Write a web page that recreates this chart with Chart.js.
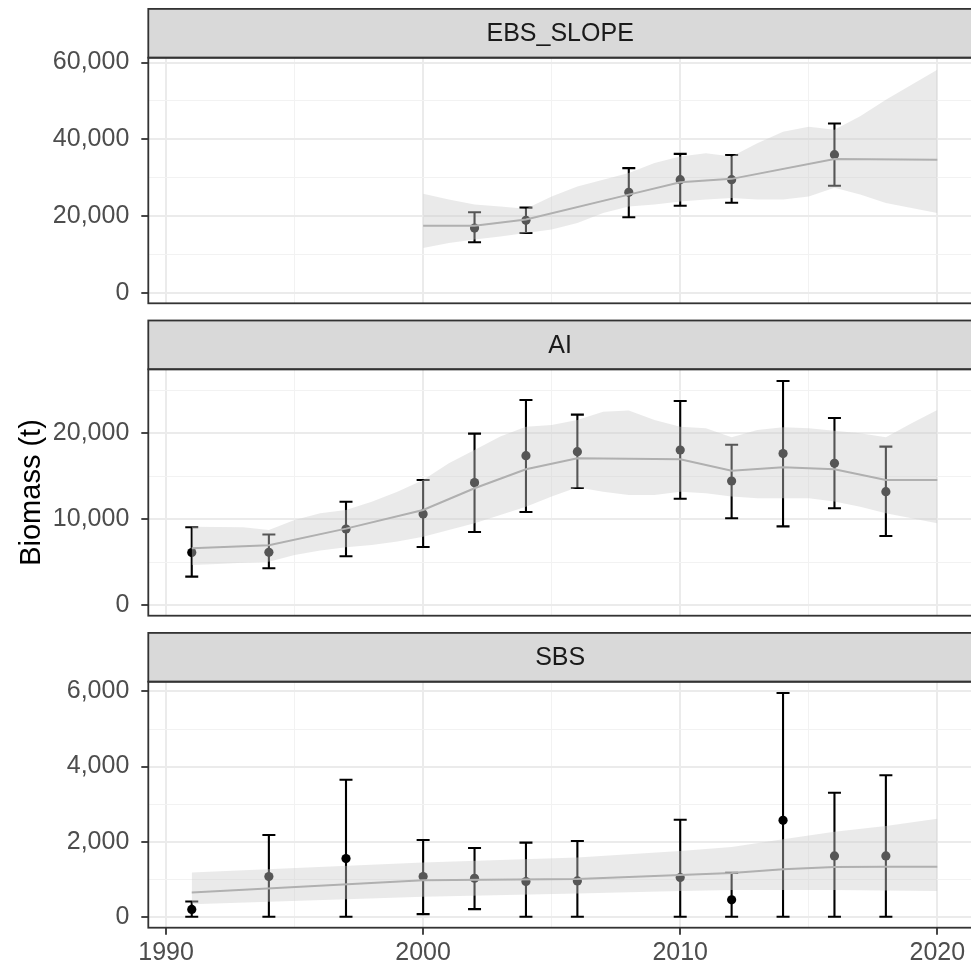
<!DOCTYPE html>
<html>
<head>
<meta charset="utf-8">
<title>Biomass (t)</title>
<script src="https://cdn.jsdelivr.net/npm/chart.js@4.4.1/dist/chart.umd.min.js"></script>
<style>
  html, body { margin: 0; padding: 0; background: #ffffff; }
  body { width: 971px; height: 966px; overflow: hidden; position: relative; }
  canvas { position: absolute; left: 0; top: 0; }
</style>
</head>
<body>
<canvas id="panelSlope" width="980" height="966"></canvas>
<canvas id="panelAI" width="980" height="966"></canvas>
<canvas id="panelSBS" width="980" height="966"></canvas>
<script>
// ---------- shared x axis (survey year) ----------
const xTickYears  = [1990, 2000, 2010, 2020];
const xTickLabels = ['1990', '2000', '2010', '2020'];
const xMinorYears = [1995, 2005, 2015];

// ---------- EBS_SLOPE ----------
const slopeYears   = [2002, 2004, 2008, 2010, 2012, 2016];
const slopeBiomass = [16900, 18900, 26200, 29500, 29500, 36000];
const slopeLower   = [13200, 15600, 19700, 22700, 23500, 27900];
const slopeUpper   = [21000, 22200, 32500, 36200, 35900, 44100];
const slopeFitYears = [2000, 2002, 2004, 2008, 2010, 2012, 2016, 2020];
const slopeFit      = [17500, 17500, 19100, 25600, 28800, 29700, 34900, 34700];
const slopeBandYears = [2000, 2001, 2002, 2003, 2004, 2005, 2006, 2007, 2008, 2009, 2010,
                        2011, 2012, 2013, 2014, 2015, 2016, 2017, 2018, 2019, 2020];
const slopeBandLow  = [11700, 13000, 13900, 14700, 15600, 16500, 18200, 20800, 22500, 23000, 23800,
                       24300, 24700, 24300, 24300, 25100, 27400, 25600, 23400, 22100, 20800];
const slopeBandHigh = [25800, 24300, 23000, 22500, 21900, 25100, 27700, 29500, 31200, 33800, 35500,
                       36400, 35500, 39000, 42000, 43300, 42500, 46000, 50300, 54200, 58100];
const slopeYTicks  = [0, 20000, 40000, 60000];
const slopeYLabels = ['0', '20,000', '40,000', '60,000'];
const slopeYMinor  = [10000, 30000, 50000];

// ---------- AI ----------
const aiYears   = [1991, 1994, 1997, 2000, 2002, 2004, 2006, 2010, 2012, 2014, 2016, 2018];
const aiBiomass = [6100, 6130, 8850, 10600, 14250, 17390, 17860, 18050, 14440, 17630, 16500, 13200];
const aiLower   = [3300, 4270, 5670, 6760, 8500, 10830, 13630, 12380, 10100, 9160, 11260, 8040];
const aiUpper   = [9050, 8200, 12030, 14560, 19960, 23880, 22170, 23760, 18670, 26090, 21780, 18440];
const aiFitYears = [1991, 1994, 1997, 2000, 2002, 2004, 2006, 2010, 2012, 2014, 2016, 2018, 2020];
const aiFit      = [6600, 6950, 8890, 11070, 13590, 15800, 17090, 16970, 15640, 16040, 15800, 14560, 14560];
const aiBandYears = [1991, 1992, 1993, 1994, 1995, 1996, 1997, 1998, 1999, 2000,
                     2001, 2002, 2003, 2004, 2005, 2006, 2007, 2008, 2009, 2010,
                     2011, 2012, 2013, 2014, 2015, 2016, 2017, 2018, 2019, 2020];
const aiBandLow  = [4660, 4780, 4930, 5040, 5820, 6330, 6720, 6990, 7380, 7960,
                    8740, 9520, 10480, 11450, 12620, 13700, 13200, 12810, 12810, 13200,
                    13010, 12620, 12430, 12430, 12430, 12040, 11450, 10680, 10100, 9520];
const aiBandHigh = [9120, 9080, 9040, 8740, 9900, 10680, 11070, 12030, 13200, 14560,
                    16500, 18050, 19610, 20770, 20970, 21550, 22520, 22640, 21550, 20770,
                    20580, 19530, 20380, 20700, 20580, 20300, 20000, 19530, 21160, 22710];
const aiYTicks  = [0, 10000, 20000];
const aiYLabels = ['0', '10,000', '20,000'];
const aiYMinor  = [5000, 15000, 25000];

// ---------- SBS ----------
const sbsYears   = [1991, 1994, 1997, 2000, 2002, 2004, 2006, 2010, 2012, 2014, 2016, 2018];
const sbsBiomass = [196, 1073, 1550, 1073, 1027, 940, 956, 1046, 452, 2568, 1620, 1620];
const sbsLower   = [0, 0, 0, 72, 205, 0, 0, 0, 0, 0, 0, 0];
const sbsUpper   = [409, 2177, 3648, 2045, 1833, 1975, 2018, 2586, 1169, 5958, 3303, 3770];
const sbsFitYears = [1991, 2000, 2006, 2010, 2012, 2014, 2016, 2018, 2020];
const sbsFit      = [648, 974, 1010, 1115, 1169, 1266, 1328, 1335, 1336];
const sbsBandYears = [1991, 2000, 2006, 2010, 2012, 2014, 2016, 2018, 2020];
const sbsBandLow   = [337, 531, 621, 690, 717, 717, 717, 700, 690];
const sbsBandHigh  = [1179, 1444, 1577, 1752, 1859, 2063, 2267, 2416, 2612];
const sbsYTicks  = [0, 2000, 4000, 6000];
const sbsYLabels = ['0', '2,000', '4,000', '6,000'];
const sbsYMinor  = [1000, 3000, 5000];

// ---------- layout ----------
const CANVAS_W = 980, CANVAS_H = 966;
const PLOT_LEFT = 148.3, PLOT_RIGHT = 972;
const STRIP_H = 48.8;
const X_MIN = 1989.31, X_MAX = 2021.35;
const FONT = "'Liberation Sans', Arial, sans-serif";

Chart.defaults.font.family = FONT;

const pts = (xs, ys) => xs.map((x, i) => ({ x, y: ys[i] }));

function makePanel(id, p) {
  const xAxisH = p.showX ? CANVAS_H - p.bottom : 0;
  const xMajor = v => xTickYears.includes(v);
  const yMajor = v => p.yTicks.includes(v);

  // strip, panel border and error bars
  const facet = {
    id: 'facet',
    beforeDatasetsDraw(chart) {
      const ctx = chart.ctx, xs = chart.scales.x, ys = chart.scales.y;
      ctx.save();
      ctx.strokeStyle = '#000000';
      ctx.lineWidth = 2.1;
      p.years.forEach((yr, i) => {
        const x = xs.getPixelForValue(yr);
        const y0 = ys.getPixelForValue(p.lower[i]);
        const y1 = ys.getPixelForValue(p.upper[i]);
        ctx.beginPath();
        ctx.moveTo(x, y0); ctx.lineTo(x, y1);
        ctx.moveTo(x - 6.5, y0); ctx.lineTo(x + 6.5, y0);
        ctx.moveTo(x - 6.5, y1); ctx.lineTo(x + 6.5, y1);
        ctx.stroke();
      });
      ctx.restore();
    },
    afterDraw(chart) {
      const ctx = chart.ctx, a = chart.chartArea;
      ctx.save();
      ctx.fillStyle = '#d9d9d9';
      ctx.fillRect(a.left, a.top - STRIP_H, a.right - a.left, STRIP_H);
      ctx.strokeStyle = '#333333';
      ctx.lineWidth = 1.8;
      ctx.strokeRect(a.left, a.top - STRIP_H, a.right - a.left, STRIP_H);
      ctx.strokeRect(a.left, a.top, a.right - a.left, a.bottom - a.top);
      ctx.fillStyle = '#1a1a1a';
      ctx.font = '25px ' + FONT;
      ctx.textAlign = 'center';
      ctx.textBaseline = 'middle';
      ctx.fillText(p.label, (a.left + a.right) / 2, a.top - STRIP_H / 2 + 1);
      ctx.restore();
    }
  };

  return new Chart(document.getElementById(id), {
    type: 'line',
    data: {
      datasets: [
        { label: 'survey', data: pts(p.years, p.biomass), showLine: false,
          pointRadius: 4.6, pointHoverRadius: 4.6, pointBackgroundColor: '#000000',
          pointBorderWidth: 0, pointBorderColor: '#000000', order: 4 },
        { label: 'lower', data: pts(p.bandYears, p.bandLow), borderWidth: 0,
          borderColor: 'rgba(0,0,0,0)', pointRadius: 0, fill: false, order: 3 },
        { label: 'upper', data: pts(p.bandYears, p.bandHigh), borderWidth: 0,
          borderColor: 'rgba(0,0,0,0)', pointRadius: 0, fill: '-1',
          backgroundColor: 'rgba(204,204,204,0.42)', order: 2 },
        { label: 'fit', data: pts(p.fitYears, p.fit), borderColor: '#b0b0b0',
          borderWidth: 2, pointRadius: 0, fill: false, tension: 0, order: 1 }
      ]
    },
    options: {
      responsive: false,
      animation: false,
      events: [],
      layout: { padding: { left: 0, right: CANVAS_W - PLOT_RIGHT, top: p.top,
                           bottom: p.showX ? 0 : CANVAS_H - p.bottom } },
      plugins: { legend: { display: false }, tooltip: { enabled: false } },
      scales: {
        x: {
          type: 'linear', min: X_MIN, max: X_MAX,
          afterBuildTicks: s => { s.ticks = [...xTickYears, ...xMinorYears].sort((a, b) => a - b).map(v => ({ value: v })); },
          afterFit: s => { s.height = xAxisH; },
          border: { display: false },
          grid: {
            color: c => xMajor(c.tick.value) ? '#ebebeb' : '#f2f2f2',
            lineWidth: c => xMajor(c.tick.value) ? 2 : 1,
            drawTicks: p.showX, tickLength: 7, tickWidth: 1.8,
            tickColor: c => xMajor(c.tick.value) ? '#333333' : 'rgba(0,0,0,0)'
          },
          ticks: {
            display: p.showX, autoSkip: false, maxRotation: 0, padding: 3,
            color: '#4d4d4d', font: { size: 25 },
            callback: v => { const i = xTickYears.indexOf(v); return i >= 0 ? xTickLabels[i] : ''; }
          }
        },
        y: {
          type: 'linear', min: p.yMin, max: p.yMax,
          afterBuildTicks: s => { s.ticks = [...p.yTicks, ...p.yMinor].sort((a, b) => a - b).map(v => ({ value: v })); },
          afterFit: s => { s.width = PLOT_LEFT; },
          border: { display: false },
          grid: {
            color: c => yMajor(c.tick.value) ? '#ebebeb' : '#f2f2f2',
            lineWidth: c => yMajor(c.tick.value) ? 2 : 1,
            drawTicks: true, tickLength: 7, tickWidth: 1.8,
            tickColor: c => yMajor(c.tick.value) ? '#333333' : 'rgba(0,0,0,0)'
          },
          ticks: {
            autoSkip: false, padding: 12, color: '#4d4d4d', font: { size: 25 },
            callback: v => { const i = p.yTicks.indexOf(v); return i >= 0 ? p.yLabels[i] : ''; }
          },
          title: {
            display: !!p.yTitle, text: p.yTitle || '', color: '#000000',
            font: { size: 29 }, padding: { top: 15, bottom: 0 }
          }
        }
      }
    },
    plugins: [facet]
  });
}

makePanel('panelSlope', {
  label: 'EBS_SLOPE', top: 57.7, bottom: 303.3, showX: false,
  years: slopeYears, biomass: slopeBiomass, lower: slopeLower, upper: slopeUpper,
  fitYears: slopeFitYears, fit: slopeFit,
  bandYears: slopeBandYears, bandLow: slopeBandLow, bandHigh: slopeBandHigh,
  yMin: -2700, yMax: 61250, yTicks: slopeYTicks, yLabels: slopeYLabels, yMinor: slopeYMinor
});

makePanel('panelAI', {
  label: 'AI', top: 369.3, bottom: 615.7, showX: false, yTitle: 'Biomass (t)',
  years: aiYears, biomass: aiBiomass, lower: aiLower, upper: aiUpper,
  fitYears: aiFitYears, fit: aiFit,
  bandYears: aiBandYears, bandLow: aiBandLow, bandHigh: aiBandHigh,
  yMin: -1250, yMax: 27450, yTicks: aiYTicks, yLabels: aiYLabels, yMinor: aiYMinor
});

makePanel('panelSBS', {
  label: 'SBS', top: 681.7, bottom: 927.7, showX: true,
  years: sbsYears, biomass: sbsBiomass, lower: sbsLower, upper: sbsUpper,
  fitYears: sbsFitYears, fit: sbsFit,
  bandYears: sbsBandYears, bandLow: sbsBandLow, bandHigh: sbsBandHigh,
  yMin: -290, yMax: 6260, yTicks: sbsYTicks, yLabels: sbsYLabels, yMinor: sbsYMinor
});
</script>
</body>
</html>
